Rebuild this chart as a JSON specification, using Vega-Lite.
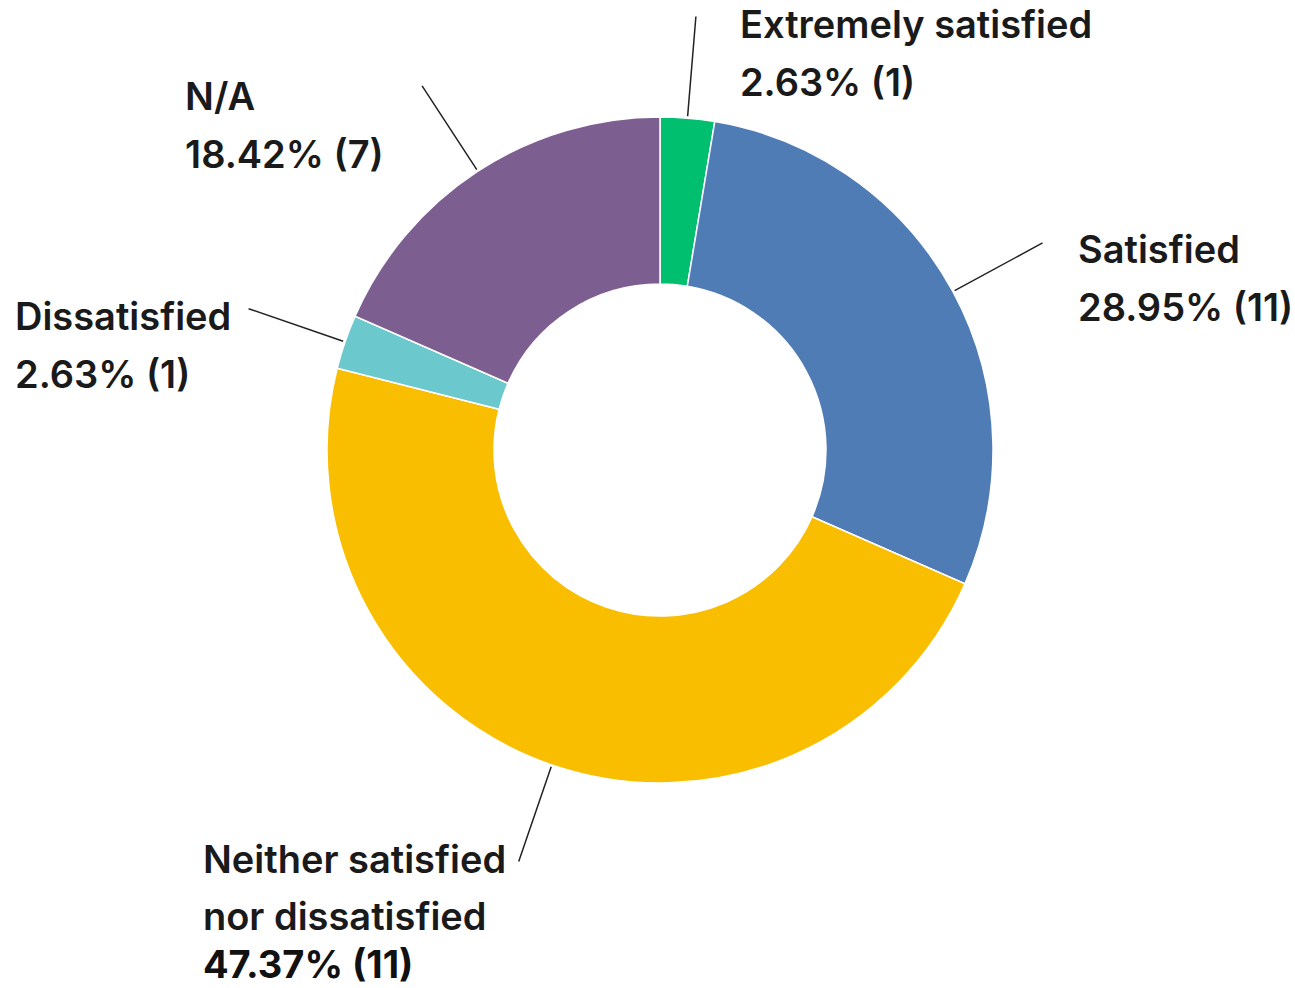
{
  "$schema": "https://vega.github.io/schema/vega-lite/v6.json",
  "width": 1270,
  "height": 900,
  "autosize": "none",
  "padding": {"left": 25, "top": 0, "right": 0, "bottom": 88},
  "background": "white",
  "config": {"view": {"stroke": null}},
  "data": {
    "values": [
      {"k": 1, "cat": "Extremely satisfied", "pct": 2.63, "name": ["Extremely satisfied", "2.63% (1)"], "value": ""},
      {"k": 2, "cat": "Satisfied", "pct": 28.95, "name": ["Satisfied", "28.95% (11)"], "value": ""},
      {"k": 3, "cat": "Neither satisfied nor dissatisfied", "pct": 47.37, "name": ["Neither satisfied", "nor dissatisfied"], "value": "47.37% (11)"},
      {"k": 4, "cat": "Dissatisfied", "pct": 2.63, "name": ["Dissatisfied", "2.63% (1)"], "value": ""},
      {"k": 5, "cat": "N/A", "pct": 18.42, "name": ["N/A", "18.42% (7)"], "value": ""}
    ]
  },
  "encoding": {
    "theta": {"field": "pct", "type": "quantitative", "stack": true},
    "order": {"field": "k", "type": "quantitative"}
  },
  "layer": [
    {
      "mark": {"type": "arc", "outerRadius": 333, "innerRadius": 166, "stroke": "white", "strokeWidth": 1.5},
      "encoding": {
        "color": {
          "field": "cat",
          "type": "nominal",
          "scale": {
            "domain": ["Extremely satisfied", "Satisfied", "Neither satisfied nor dissatisfied", "Dissatisfied", "N/A"],
            "range": ["#00BF6F", "#507CB6", "#F9BE00", "#6BC8CD", "#7D5E90"]
          },
          "legend": null
        }
      }
    },
    {
      "mark": {"type": "arc", "outerRadius": 435, "innerRadius": 335, "padAngle": 3.14, "filled": false, "stroke": "#222222", "strokeWidth": 1.5}
    },
    {
      "mark": {"type": "text", "radius": 435, "align": "left", "baseline": "alphabetic", "dx": 44, "dy": 21.5, "font": "Inter", "fontSize": 38, "fontWeight": 600, "lineHeight": 58, "color": "#1a1a1a"},
      "encoding": {"text": {"condition": {"test": "datum.k === 1", "field": "name"}, "value": ""}}
    },
    {
      "mark": {"type": "text", "radius": 435, "align": "left", "baseline": "alphabetic", "dx": 35.4, "dy": 20, "font": "Inter", "fontSize": 38, "fontWeight": 600, "lineHeight": 58, "color": "#1a1a1a"},
      "encoding": {"text": {"condition": {"test": "datum.k === 2", "field": "name"}, "value": ""}}
    },
    {
      "mark": {"type": "text", "radius": 435, "align": "left", "baseline": "alphabetic", "dx": -315.8, "dy": 11.6, "font": "Inter", "fontSize": 38, "fontWeight": 600, "lineHeight": 57, "color": "#1a1a1a"},
      "encoding": {"text": {"condition": {"test": "datum.k === 3", "field": "name"}, "value": ""}}
    },
    {
      "mark": {"type": "text", "radius": 435, "align": "left", "baseline": "alphabetic", "dx": -315.8, "dy": 117, "font": "Inter", "fontSize": 38, "fontWeight": 700, "color": "#111111"},
      "encoding": {"text": {"condition": {"test": "datum.k === 3", "field": "value"}, "value": ""}}
    },
    {
      "mark": {"type": "text", "radius": 435, "align": "left", "baseline": "alphabetic", "dx": -233.6, "dy": 21.2, "font": "Inter", "fontSize": 38, "fontWeight": 600, "lineHeight": 58, "color": "#1a1a1a"},
      "encoding": {"text": {"condition": {"test": "datum.k === 4", "field": "name"}, "value": ""}}
    },
    {
      "mark": {"type": "text", "radius": 435, "align": "left", "baseline": "alphabetic", "dx": -237, "dy": 24, "font": "Inter", "fontSize": 38, "fontWeight": 600, "lineHeight": 58, "color": "#1a1a1a"},
      "encoding": {"text": {"condition": {"test": "datum.k === 5", "field": "name"}, "value": ""}}
    }
  ]
}
